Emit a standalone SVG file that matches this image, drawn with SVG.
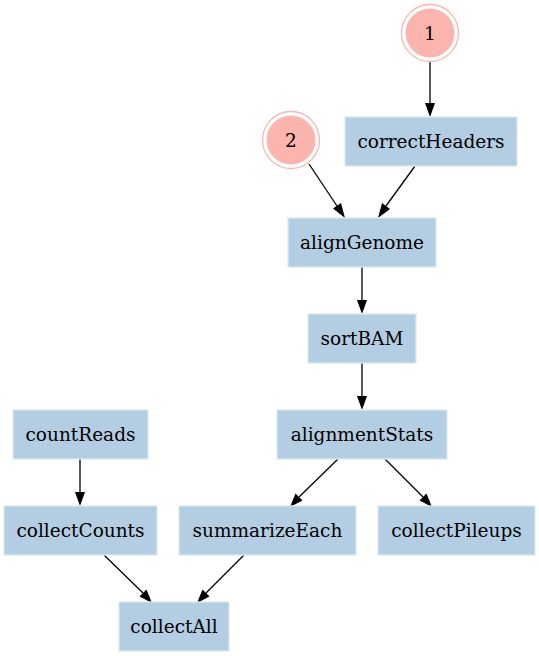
<svg xmlns="http://www.w3.org/2000/svg" width="539" height="656" viewBox="0 0 539 656">
<defs>
<style>
.box{fill:#b3cde3;stroke:#dde8f1;stroke-width:1.3}
.c-in{fill:#fbb4ae;stroke:#fbb4ae}
.c-out{fill:none;stroke:#fbb4ae;stroke-width:1.3}
text{font-family:"DejaVu Serif","Liberation Serif",serif;font-size:18.5px;fill:#000;text-anchor:middle;dominant-baseline:central}
.edge{stroke:#000;stroke-width:1.3;fill:none}
</style>
</defs>
<rect width="539" height="656" fill="#fff"/>
<g id="edges">
<path class="edge" d="M430,62 L430,103"/><path d="M425,103 L430,117 L435,103 Z"/>
<path class="edge" d="M309,164 L337,206"/><path d="M333,208.5 L345,218 L341,203 Z"/>
<path class="edge" d="M415,166 L386,206"/><path d="M382,203 L378,218 L390,209 Z"/>
<path class="edge" d="M362,266 L362,300"/><path d="M357,300 L362,314 L367,300 Z"/>
<path class="edge" d="M362,362 L362,396"/><path d="M357,396 L362,410 L367,396 Z"/>
<path class="edge" d="M338,459 L299,497"/><path d="M295.5,493.5 L290,507 L302.5,500.5 Z"/>
<path class="edge" d="M385,459 L423,497"/><path d="M419.5,500.5 L432,507 L426.5,493.5 Z"/>
<path class="edge" d="M80,459 L80,492"/><path d="M75,492 L80,506 L85,492 Z"/>
<path class="edge" d="M104,555 L143,593"/><path d="M139.5,596.5 L152,603 L146.5,589.5 Z"/>
<path class="edge" d="M244,555 L206,593"/><path d="M202.5,589.5 L197,603 L209.5,596.5 Z"/>
</g>
<g id="n1"><circle class="c-out" cx="430" cy="33" r="28.5"/><circle class="c-in" cx="430" cy="33" r="24"/><text x="430" y="33">1</text></g>
<g id="n2"><circle class="c-out" cx="291" cy="140" r="28.5"/><circle class="c-in" cx="291" cy="140" r="24"/><text x="291" y="140">2</text></g>
<g id="correctHeaders"><rect class="box" x="345" y="117" width="172" height="49"/><text x="431" y="141.5">correctHeaders</text></g>
<g id="alignGenome"><rect class="box" x="288" y="218" width="148" height="49"/><text x="362" y="242.5">alignGenome</text></g>
<g id="sortBAM"><rect class="box" x="308" y="314" width="108" height="49"/><text x="362" y="338.5">sortBAM</text></g>
<g id="alignmentStats"><rect class="box" x="277" y="410" width="170" height="49"/><text x="362" y="434.5">alignmentStats</text></g>
<g id="countReads"><rect class="box" x="13" y="410" width="135" height="49"/><text x="80.5" y="434.5">countReads</text></g>
<g id="collectCounts"><rect class="box" x="4" y="506" width="153" height="49"/><text x="80.5" y="530.5">collectCounts</text></g>
<g id="summarizeEach"><rect class="box" x="179" y="506" width="177" height="49"/><text x="267.5" y="530.5">summarizeEach</text></g>
<g id="collectPileups"><rect class="box" x="378" y="506" width="157" height="49"/><text x="456.5" y="530.5">collectPileups</text></g>
<g id="collectAll"><rect class="box" x="119" y="602" width="110" height="49"/><text x="174" y="626.5">collectAll</text></g>
</svg>
